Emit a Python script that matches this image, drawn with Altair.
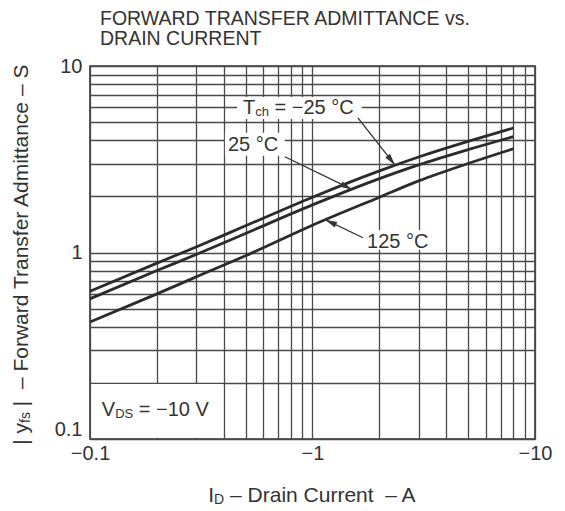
import math
import altair as alt
import pandas as pd

FONT = "Liberation Sans"
INK = "#333333"
GRID = "#4a4a4a"

# ---------------- data ----------------
id_abs = [0.1, 0.2, 0.3, 0.5, 1, 2, 3, 5, 8]          # |I_D| in A (axis shows negative values)
yfs_m25 = [0.62, 0.877, 1.07, 1.39, 1.98, 2.74, 3.25, 3.94, 4.65]   # Tch = -25 °C
yfs_25 = [0.565, 0.80, 0.975, 1.265, 1.80, 2.49, 2.95, 3.56, 4.18]  # Tch = 25 °C
yfs_125 = [0.424, 0.60, 0.74, 0.96, 1.40, 1.98, 2.42, 3.00, 3.60]   # Tch = 125 °C
series_names = ["-25 °C", "25 °C", "125 °C"]

x_grid = [0.1, 0.2, 0.3, 0.4, 0.5, 0.6, 0.7, 0.8, 0.9, 1, 2, 3, 4, 5, 6, 7, 8, 9, 10]
y_grid = [0.1, 0.2, 0.3, 0.4, 0.5, 0.6, 0.7, 0.8, 0.9, 1, 2, 3, 4, 5, 6, 7, 8, 9, 10]
x_tick_values = [0.1, 1, 10]
x_tick_labels = ["\u22120.1", "\u22121", "\u221210"]
y_tick_values = [0.1, 1, 10]
y_tick_labels = ["0.1", "1", "10"]

title_lines = ["FORWARD TRANSFER ADMITTANCE vs.", "DRAIN CURRENT"]

# annotation arrows (start near label -> tip on curve), data units
arrow_x0 = [1.60, 0.751, 1.687]
arrow_y0 = [5.27, 3.26, 1.20]
arrow_x1 = [2.35, 1.505, 1.14]
arrow_y1 = [2.94, 2.18, 1.50]

# white label backgrounds, data units
box_x0 = [0.458, 0.404, 1.667, 0.1015]
box_x1 = [1.667, 0.751, 3.56, 0.395]
box_y0 = [5.2, 3.30, 1.034, 0.1015]
box_y1 = [6.82, 4.38, 1.32, 0.197]

# annotation text anchors (left / middle), data units
ann_x = [0.487, 0.417, 1.758, 0.113]
ann_y = [5.96, 3.77, 1.14, 0.1436]

# ---------------- layout ----------------
W, H = 445, 373
PXX = W / 2.0   # px per decade
PXY = H / 2.0

XS = alt.Scale(type="log", domain=[0.1, 10], nice=False)
YS = alt.Scale(type="log", domain=[0.1, 10], nice=False)


def label_expr(vals, labs):
    expr = "''"
    for v, l in reversed(list(zip(vals, labs))):
        expr = f"datum.value == {v} ? '{l}' : ({expr})"
    return expr


XA = alt.Axis(values=x_grid, labelExpr=label_expr(x_tick_values, x_tick_labels), title="",
              grid=True, ticks=False, domain=False, labelFlush=False, labelOverlap=False,
              labelPadding=4, labelBaseline="top")
YA = alt.Axis(values=y_grid, labelExpr=label_expr(y_tick_values, y_tick_labels), title="",
              grid=True, ticks=False, domain=False, labelOverlap=False, labelPadding=8,
              labelBaseline={"condition": {"test": "datum.value == 0.1", "value": "bottom"},
                             "value": "middle"})


def X(f):
    return alt.X(f"{f}:Q", scale=XS, axis=XA)


def Y(f):
    return alt.Y(f"{f}:Q", scale=YS, axis=YA)


CW = {' ': 0.278, '|': 0.26, 'y': 0.5, 'f': 0.278, 's': 0.5, '\u2013': 0.556, '\u2212': 0.584,
      'F': 0.611, 'o': 0.556, 'r': 0.333, 'w': 0.722, 'a': 0.556, 'd': 0.556, 'T': 0.611,
      'n': 0.556, 'e': 0.556, 'A': 0.667, 'm': 0.833, 'i': 0.222, 't': 0.278, 'c': 0.5,
      'S': 0.667, 'I': 0.278, 'D': 0.722, 'C': 0.722, 'u': 0.556, 'h': 0.556, '=': 0.584,
      '\u00b0': 0.4, 'V': 0.667, '.': 0.278}


def tw(s, size):
    return sum(CW.get(c, 0.556) for c in s) * size


def rich(pieces, enc, angle=0, df=None):
    if df is None:
        df = pd.DataFrame({"k": [0]})
    out = []
    off = 0.0
    for txt, size, dy in pieces:
        stripped = txt.lstrip(" ")
        lead = tw(txt[: len(txt) - len(stripped)], size)
        kw = dict(text=stripped.replace("  ", " \u00a0"), fontSize=size, dx=off + lead, dy=dy,
                  align="left", baseline="middle", font=FONT, color=INK)
        if angle:
            kw["angle"] = angle
        out.append(alt.Chart(df).mark_text(**kw).encode(**enc))
        off += tw(txt, size)
    return out, off


# curves
rows = []
for name, ys in zip(series_names, [yfs_m25, yfs_25, yfs_125]):
    for xv, yv in zip(id_abs, ys):
        rows.append({"x": xv, "y": yv, "s": name})
curves_df = pd.DataFrame(rows)

boxes_df = pd.DataFrame({"x": box_x0, "x2": box_x1, "y": box_y0, "y2": box_y1})
arrows_df = pd.DataFrame({"x": arrow_x0, "y": arrow_y0, "x2": arrow_x1, "y2": arrow_y1})

angles = []
for a, b, c, d in zip(arrow_x0, arrow_y0, arrow_x1, arrow_y1):
    ddx = (math.log10(c) - math.log10(a)) * PXX
    ddy = -(math.log10(d) - math.log10(b)) * PXY
    angles.append(math.degrees(math.atan2(ddx, -ddy)) % 360)
heads_df = pd.DataFrame({"x": arrow_x1, "y": arrow_y1, "ang": angles})

boxes = alt.Chart(boxes_df).mark_rect(color="white").encode(
    x=X("x"), x2=alt.X2("x2:Q"), y=Y("y"), y2=alt.Y2("y2:Q"))

curves = alt.Chart(curves_df).mark_line(color="#2b2b2b", strokeWidth=2.8, interpolate="monotone").encode(
    x=X("x"), y=Y("y"), detail="s:N")

arrows = alt.Chart(arrows_df).mark_rule(color=INK, strokeWidth=1.3).encode(
    x=X("x"), y=Y("y"), x2=alt.X2("x2:Q"), y2=alt.Y2("y2:Q"))

heads = alt.Chart(heads_df).mark_point(shape="M0,0L0.25,1L-0.25,1Z", filled=True, size=576,
                                       color=INK, opacity=1).encode(
    x=X("x"), y=Y("y"), angle=alt.Angle("ang:Q", scale=None))

ann_pieces = [
    [("T", 20, 0), ("ch", 13, 4), (" = \u221225 \u00b0C", 20, 0)],
    [("25 \u00b0C", 20, 0)],
    [("125 \u00b0C", 20, 0)],
    [("V", 20, 0), ("DS", 13, 4), (" = \u221210 V", 20, 0)],
]
texts = []
for ax_, ay_, pcs in zip(ann_x, ann_y, ann_pieces):
    df = pd.DataFrame({"x": [ax_], "y": [ay_]})
    lay, _ = rich(pcs, dict(x=X("x"), y=Y("y")), df=df)
    texts += lay

# axis titles as rich text (for subscripts)
xt_pieces = [("I", 21, 0), ("D", 14, 4), (" \u2013 Drain Current  \u2013 A", 21, 0)]
xt_total = sum(tw(t, s) for t, s, _ in xt_pieces)
xt_layers, _ = rich(xt_pieces, dict(x=alt.value(222.5 - xt_total / 2), y=alt.value(430)))

yt_pieces = [("| y", 21, 0), ("fs", 14, 4), (" |  \u2013 Forward Transfer Admittance \u2013 S", 21, 0)]
yt_total = sum(tw(t, s) for t, s, _ in yt_pieces)
yt_layers, _ = rich(yt_pieces, dict(x=alt.value(-68), y=alt.value(187.5 + yt_total / 2)), angle=270)

chart = alt.layer(boxes, curves, arrows, heads, *texts, *xt_layers, *yt_layers).properties(
    width=W, height=H,
    autosize=alt.AutoSizeParams(type="none"),
    padding={"left": 82, "top": 58, "right": 22, "bottom": 72},
    background="white",
    title=alt.TitleParams(text=title_lines, anchor="start", frame="group", dx=10,
                          fontSize=19.5, font=FONT, fontWeight="normal", color=INK,
                          lineHeight=20, offset=7),
).configure_view(stroke=INK, strokeWidth=1.6).configure_axis(
    labelFont=FONT, labelFontSize=20, labelColor=INK,
    gridColor=GRID, gridWidth=1.3, gridOpacity=1,
)

chart.save("out.html", embed_options={"renderer": "svg", "actions": False})
